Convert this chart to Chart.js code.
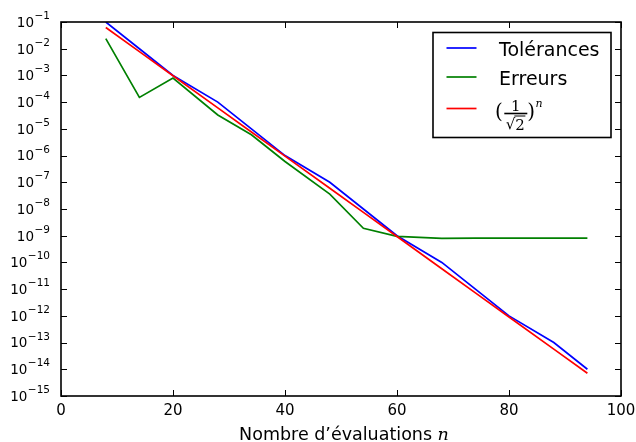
<!DOCTYPE html>
<html>
<head>
<meta charset="utf-8">
<script src="https://cdn.jsdelivr.net/npm/chart.js@4/dist/chart.umd.min.js"></script>
<style>
    html, body { margin: 0; padding: 0; background: #fff; }
    #wrap { width: 636px; height: 442px; }
</style>
</head>
<body>
<div id="wrap"><canvas id="convChart" width="636" height="442"></canvas></div>
<script>
// Number of evaluations at each run
const evaluations = [8, 14, 20, 28, 34, 40, 48, 54, 60, 68, 74, 80, 88, 94];
// Requested tolerance for each run
const tolerances = [1e-1, 1e-2, 1e-3, 1e-4, 1e-5, 1e-6, 1e-7, 1e-8, 1e-9, 1e-10, 1e-11, 1e-12, 1e-13, 1e-14];
// Measured error for each run
const errors = [2.4e-2, 1.5e-4, 8.0e-4, 3.3e-5, 6.0e-6, 6.0e-7, 3.6e-8, 1.9e-9, 9.5e-10, 8.0e-10, 8.1e-10, 8.1e-10, 8.1e-10, 8.1e-10];
// Reference curve (1/sqrt 2)^n at the same n
const reference = [6.25e-2, 7.81e-3, 9.77e-4, 6.10e-5, 7.63e-6, 9.54e-7, 5.96e-8, 7.45e-9, 9.31e-10, 5.82e-11, 7.28e-12, 9.09e-13, 5.68e-14, 7.11e-15];

const xTicks = [0, 20, 40, 60, 80, 100];
const yExponents = [-1, -2, -3, -4, -5, -6, -7, -8, -9, -10, -11, -12, -13, -14, -15];

const seriesLabels = ['Tolérances', 'Erreurs', '(1/√2)^n'];
const seriesColors = ['#0000ff', '#008000', '#ff0000'];

const SANS = '"DejaVu Sans", sans-serif';
const SERIF = '"DejaVu Serif", "Liberation Serif", serif';

function toPoints(values) {
    return evaluations.map((n, i) => ({ x: n, y: values[i] }));
}

// frame, inward ticks, y labels with exponents, x title and legend
const decorations = {
    id: 'decorations',
    afterDraw(chart) {
        const ctx = chart.ctx;
        const area = chart.chartArea;
        const xs = chart.scales.x;
        const ys = chart.scales.y;
        ctx.save();

        // tick marks on all four sides
        ctx.strokeStyle = '#000';
        ctx.lineWidth = 1;
        ctx.beginPath();
        yExponents.forEach(e => {
            const y = Math.round(ys.getPixelForValue(Math.pow(10, e))) + 0.5;
            ctx.moveTo(area.left, y); ctx.lineTo(area.left + 6, y);
            ctx.moveTo(area.right, y); ctx.lineTo(area.right - 6, y);
        });
        xTicks.forEach(v => {
            const x = Math.round(xs.getPixelForValue(v)) + 0.5;
            ctx.moveTo(x, area.bottom); ctx.lineTo(x, area.bottom - 6);
            ctx.moveTo(x, area.top); ctx.lineTo(x, area.top + 6);
        });
        ctx.stroke();

        // axes frame
        ctx.lineWidth = 1.6;
        ctx.strokeRect(area.left, area.top, area.right - area.left, area.bottom - area.top);

        // y labels: 10 with superscript exponent
        ctx.fillStyle = '#000';
        ctx.textBaseline = 'alphabetic';
        ctx.textAlign = 'left';
        const labelRight = area.left - 11;
        yExponents.forEach(e => {
            const y = ys.getPixelForValue(Math.pow(10, e));
            const sup = '\u2212' + String(-e);
            ctx.font = '10.5px ' + SANS;
            const wSup = ctx.measureText(sup).width;
            ctx.font = '13.5px ' + SANS;
            const wBase = ctx.measureText('10').width;
            const x0 = labelRight - wSup - wBase - 0.5;
            ctx.fillText('10', x0, y + 4.8);
            ctx.font = '10.5px ' + SANS;
            ctx.fillText(sup, x0 + wBase + 0.5, y - 3);
        });

        // x axis title
        const titleText = 'Nombre d\u2019évaluations ';
        ctx.font = '17.5px ' + SANS;
        const wText = ctx.measureText(titleText).width;
        ctx.font = 'italic 17.5px ' + SERIF;
        const wN = ctx.measureText('n').width;
        const tx = (area.left + area.right) / 2 + 3 - (wText + wN) / 2;
        ctx.font = '17.5px ' + SANS;
        ctx.fillText(titleText, tx, 439.5);
        ctx.font = 'italic 17.5px ' + SERIF;
        ctx.fillText('n', tx + wText, 439.5);

        drawLegend(ctx, area);
        ctx.restore();
    }
};

function drawLegend(ctx, area) {
    const left = area.right - 188;
    const top = area.top + 10.5;
    const width = 178;
    const height = 105;

    ctx.fillStyle = '#fff';
    ctx.fillRect(left, top, width, height);
    ctx.strokeStyle = '#000';
    ctx.lineWidth = 1.6;
    ctx.strokeRect(left, top, width, height);

    const rows = [top + 15.5, top + 44.5, top + 76];
    const lineX0 = left + 13.5;
    const lineX1 = left + 43.5;
    const textX = left + 66;

    rows.forEach((y, i) => {
        ctx.strokeStyle = seriesColors[i];
        ctx.lineWidth = 1.7;
        ctx.beginPath();
        ctx.moveTo(lineX0, y);
        ctx.lineTo(lineX1, y);
        ctx.stroke();
    });

    ctx.fillStyle = '#000';
    ctx.textAlign = 'left';
    ctx.textBaseline = 'alphabetic';
    ctx.font = '19px ' + SANS;
    ctx.fillText(seriesLabels[0], textX, rows[0] + 7.8);
    ctx.fillText(seriesLabels[1], textX, rows[1] + 7.8);

    // (1/sqrt2)^n as a built-up fraction
    const y = rows[2];
    const x = textX - 4;
    ctx.font = '20px ' + SERIF;
    ctx.fillText('(', x, y + 9);
    const wParen = ctx.measureText('(').width;
    const barL = x + wParen + 1.5;
    const barR = barL + 23;
    ctx.lineWidth = 1.6;
    ctx.strokeStyle = '#000';
    ctx.beginPath();
    ctx.moveTo(barL, y + 5);
    ctx.lineTo(barR, y + 5);
    ctx.stroke();
    ctx.font = '15px ' + SERIF;
    ctx.textAlign = 'center';
    ctx.fillText('1', (barL + barR) / 2, y + 2.7);
    ctx.textAlign = 'left';
    ctx.fillText('\u221A', barL + 1.5, y + 20.5);
    const wRad = ctx.measureText('\u221A').width;
    ctx.fillText('2', barL + 1.5 + wRad, y + 21.5);
    const w2 = ctx.measureText('2').width;
    ctx.lineWidth = 1;
    ctx.beginPath();
    ctx.moveTo(barL + 0.5 + wRad, y + 7.5);
    ctx.lineTo(barL + 2 + wRad + w2, y + 7.5);
    ctx.stroke();
    ctx.font = '20px ' + SERIF;
    ctx.fillText(')', barR, y + 9);
    const wClose = ctx.measureText(')').width;
    ctx.font = 'italic 11px ' + SERIF;
    ctx.fillText('n', barR + wClose + 0.5, y - 1.8);
}

function buildChart() {
    const el = document.getElementById('convChart');
    if (!el) return;
    const datasets = [tolerances, errors, reference].map((values, i) => ({
        label: seriesLabels[i],
        data: toPoints(values),
        borderColor: seriesColors[i],
        backgroundColor: seriesColors[i],
        borderWidth: 1.7,
        pointRadius: 0,
        tension: 0,
        fill: false,
        order: 3 - i
    }));

    new Chart(el.getContext('2d'), {
        type: 'line',
        data: { datasets },
        options: {
            responsive: false,
            animation: false,
            events: [],
            layout: { padding: { top: 22, right: 15, left: 0, bottom: 0 } },
            plugins: {
                legend: { display: false },
                tooltip: { enabled: false },
                title: { display: false }
            },
            scales: {
                x: {
                    type: 'linear',
                    min: 0,
                    max: 100,
                    afterBuildTicks: scale => { scale.ticks = xTicks.map(v => ({ value: v })); },
                    afterFit: scale => {
                        scale.height = 46;
                        // let the last label run into the margin instead of shrinking the plot
                        scale.paddingLeft = 0;
                        scale.paddingRight = 0;
                    },
                    grid: { display: false, drawTicks: false },
                    border: { display: false },
                    ticks: {
                        color: '#000',
                        padding: 6,
                        maxRotation: 0,
                        autoSkip: false,
                        font: { family: SANS, size: 15 }
                    }
                },
                y: {
                    type: 'logarithmic',
                    min: 1e-15,
                    max: 1e-1,
                    afterBuildTicks: scale => { scale.ticks = yExponents.map(e => ({ value: Math.pow(10, e) })); },
                    afterFit: scale => {
                        scale.width = 61;
                        scale.paddingTop = 0;
                        scale.paddingBottom = 0;
                    },
                    grid: { display: false, drawTicks: false },
                    border: { display: false },
                    ticks: { display: false }
                }
            }
        },
        plugins: [decorations]
    });
}

document.addEventListener('DOMContentLoaded', buildChart);
</script>
</body>
</html>
